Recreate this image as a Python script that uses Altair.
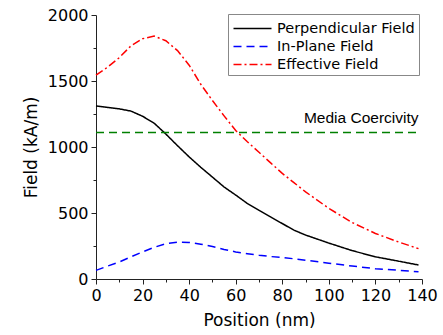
import altair as alt
import pandas as pd

# Positions (nm)
pos = [0, 5, 10, 15, 20, 25, 30, 35, 40, 45, 50, 55, 60, 65, 70, 75, 80, 85, 90, 100, 110, 120, 130, 138.5]
perp = [1311, 1300, 1289, 1272, 1233, 1180, 1098, 1010, 925, 846, 772, 697, 636, 572, 520, 470, 420, 370, 333, 272, 215, 168, 135, 106]
inplane = [65, 98, 129, 168, 205, 240, 268, 278, 277, 264, 246, 224, 205, 192, 180, 170, 164, 153, 142, 120, 98, 78, 66, 55]
effective = [1545, 1605, 1677, 1766, 1820, 1840, 1805, 1730, 1620, 1475, 1352, 1236, 1125, 1040, 960, 880, 800, 730, 660, 535, 428, 345, 280, 230]

series_names = ["Perpendicular Field", "In-Plane Field", "Effective Field"]
series_colors = ["#000000", "#0000ff", "#ff0000"]
series_dash = [[1, 0], [8, 5], [8, 3, 2, 3]]

coercivity = 1110
coercivity_label = "Media Coercivity"
coercivity_x = [0, 138.5]

rows = []
for name, vals in zip(series_names, [perp, inplane, effective]):
    for p, v in zip(pos, vals):
        rows.append({"Position": p, "Field": v, "Series": name})
df = pd.DataFrame(rows)

xscale = alt.Scale(domain=[0, 140], nice=False)
yscale = alt.Scale(domain=[0, 2000], nice=False)

font = "DejaVu Sans"
font2 = "Liberation Sans"

x_axis = alt.Axis(
    title="Position (nm)",
    values=list(range(0, 141, 10)),
    labelExpr="datum.value % 20 === 0 ? datum.label : ''",
    labelOverlap=False,
    labelFlush=False,
    tickSize={"condition": {"test": "datum.value % 20 === 0", "value": 5}, "value": 3},
    grid=False,
    labelFont=font,
    titleFont=font,
    labelFontSize=16,
    titleFontSize=17,
    titleFontWeight="normal",
    labelPadding=3,
    titlePadding=9,
)
y_axis = alt.Axis(
    title="Field (kA/m)",
    values=list(range(0, 2001, 250)),
    labelExpr="datum.value % 500 === 0 ? datum.label : ''",
    labelOverlap=False,
    labelFlush=False,
    format="d",
    tickSize={"condition": {"test": "datum.value % 500 === 0", "value": 5}, "value": 3},
    grid=False,
    labelFont=font,
    titleFont=font,
    labelFontSize=16,
    titleFontSize=17,
    titleFontWeight="normal",
    labelPadding=3,
    titlePadding=7,
)

legend = alt.Legend(
    title=None,
    orient="none",
    legendX=132,
    legendY=-1,
    symbolType="M-2,0H2",
    symbolSize=361,
    symbolStrokeWidth=1.6,
    symbolFillColor="transparent",
    symbolOffset=10,
    labelFontSize=14.5,
    labelFont=font,
    strokeColor="#888888",
    padding=4,
    rowPadding=1,
    labelOffset=14,
    fillColor="white",
)

lines = alt.Chart(df).mark_line(strokeWidth=1.5).encode(
    x=alt.X("Position:Q", scale=xscale, axis=x_axis),
    y=alt.Y("Field:Q", scale=yscale, axis=y_axis),
    color=alt.Color("Series:N", scale=alt.Scale(domain=series_names, range=series_colors), legend=legend, sort=series_names),
    strokeDash=alt.StrokeDash("Series:N", scale=alt.Scale(domain=series_names, range=series_dash), legend=legend, sort=series_names),
    detail="Series:N",
)

cdf = pd.DataFrame({"x": [coercivity_x[0]], "x2": [coercivity_x[1]], "y": [coercivity], "label": [coercivity_label]})

rule = alt.Chart(cdf).mark_rule(color="#008000", strokeWidth=1.5, strokeDash=[8, 5]).encode(
    x=alt.X("x:Q", scale=xscale, axis=x_axis),
    x2="x2:Q",
    y=alt.Y("y:Q", scale=yscale, axis=y_axis),
)

text = alt.Chart(cdf).mark_text(align="right", baseline="bottom", dy=-6, fontSize=15.5, font=font2, color="black").encode(
    x=alt.X("x2:Q", scale=xscale, axis=x_axis),
    y=alt.Y("y:Q", scale=yscale, axis=y_axis),
    text="label:N",
)

chart = alt.layer(lines, rule, text).properties(
    width=326,
    height=264,
    background="white",
    autosize=alt.AutoSizeParams(type="none"),
    padding={"left": 96, "top": 15, "right": 21, "bottom": 56},
).configure_view(stroke=None).configure_axis(
    domainColor="#222222",
    tickColor="#222222",
    labelColor="black",
    titleColor="black",
    domainWidth=1,
    tickWidth=1,
)

chart.save("out.html", embed_options={"renderer": "svg", "actions": False})
